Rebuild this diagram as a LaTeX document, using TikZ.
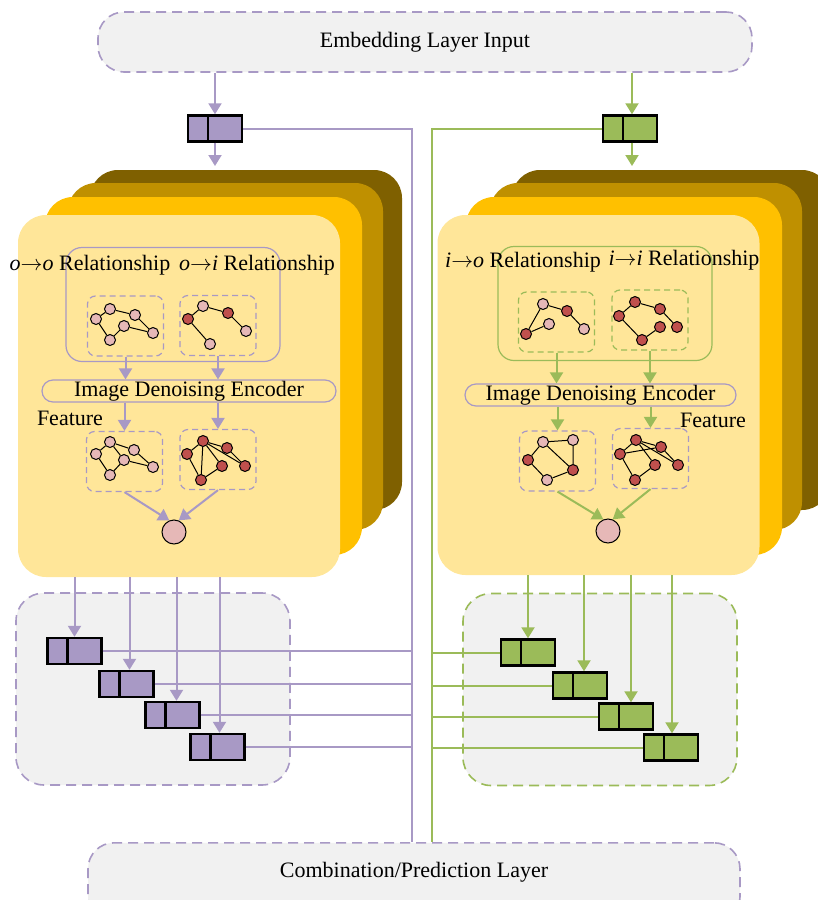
\documentclass[tikz,border=0pt]{standalone}
\usepackage{fontspec}
\setmainfont{Liberation Serif}
\usetikzlibrary{arrows.meta}

\definecolor{purp}{RGB}{168,153,197}
\definecolor{grn}{RGB}{155,187,89}
\definecolor{lightY}{RGB}{255,230,153}
\definecolor{orng}{RGB}{255,192,0}
\definecolor{ochre}{RGB}{191,144,0}
\definecolor{brwn}{RGB}{127,96,0}
\definecolor{pinkN}{RGB}{230,184,183}
\definecolor{redN}{RGB}{192,80,77}
\definecolor{panel}{RGB}{241,241,241}

\begin{document}
\begin{tikzpicture}[x=0.5pt,y=-0.5pt,font=\fontsize{11}{13}\selectfont,
  pill/.style={draw=purp,dash pattern=on 5pt off 3pt,line width=0.8pt,fill=panel,rounded corners=13pt,minimum height=30pt},
  panelbox/.style={dash pattern=on 5pt off 3pt,line width=0.8pt,fill=panel,rounded corners=14pt,minimum width=137pt,minimum height=96pt},
  layer/.style={rounded corners=14pt,minimum width=161pt,minimum height=181pt},
  relbox/.style={line width=0.6pt,rounded corners=8pt,minimum width=107pt,minimum height=57pt},
  gbox/.style={dash pattern=on 3pt off 2pt,line width=0.6pt,rounded corners=4pt,minimum width=38pt,minimum height=30pt},
  encoder/.style={draw=purp,line width=0.6pt,rounded corners=5.5pt,minimum height=11pt,inner sep=0pt},
  gn/.style={circle,draw=black,line width=0.5pt,minimum size=5.5pt,inner sep=0pt},
  pk/.style={gn,fill=pinkN},
  rd/.style={gn,fill=redN},
  edge/.style={line width=0.5pt},
  outcirc/.style={circle,draw=black,line width=0.5pt,fill=pinkN,minimum size=12pt,inner sep=0pt},
  vec/.style={draw=black,line width=1.2pt,minimum width=27pt,minimum height=13pt,inner sep=0pt,
    path picture={\draw[line width=1.2pt] ([xshift=10pt]path picture bounding box.north west) -- ([xshift=10pt]path picture bounding box.south west);}},
  vp/.style={vec,fill=purp},
  vg/.style={vec,fill=grn},
  arrP/.style={draw=purp,line width=1pt,-{Triangle[width=6.5pt,length=5.5pt]}},
  arrG/.style={draw=grn,line width=1pt,-{Triangle[width=6.5pt,length=5.5pt]}},
  lnP/.style={draw=purp,line width=1pt},
  lnG/.style={draw=grn,line width=1pt}]
\useasboundingbox (0,0) rectangle (818,900);

% input / output layers
\node[pill,minimum width=327pt] (emb) at (425,42) {Embedding Layer Input};
\node[pill,minimum width=326pt,minimum height=40pt,anchor=north] (comb) at (414,842) {};
\node (combTxt) at (414,872) {Combination/Prediction Layer};

% gray panels
\node[panelbox,draw=purp] (panL) at (153,689) {};
\node[panelbox,draw=grn] (panR) at (600,689.5) {};

% left stack
\fill[brwn,rounded corners=14pt] (90,170) rectangle (402,510);
\fill[ochre,rounded corners=14pt] (68,183) rectangle (383,530);
\fill[orng,rounded corners=14pt] (45,197) rectangle (362,555);
\node[layer,fill=lightY] (frontL) at (179,396) {};

% right stack
\fill[brwn,rounded corners=14pt] (512,170) rectangle (830,510);
\fill[ochre,rounded corners=14pt] (490,183) rectangle (802,530);
\fill[orng,rounded corners=14pt] (466,197) rectangle (782,555);
\node[layer,fill=lightY,minimum height=180pt] (frontR) at (598.5,395) {};

% left block
\node[relbox,draw=purp] (relL) at (173,304.5) {};
\node (lblOO) at (90,265) {\textit{o}$\rightarrow$\textit{o} Relationship};
\node (lblOI) at (257,265) {\textit{o}$\rightarrow$\textit{i} Relationship};
\node[gbox,draw=purp] (dA) at (125.5,326) {};
\node[gbox,draw=purp] (dB) at (218,325.5) {};
\node[encoder,minimum width=147pt] (encL) at (189,391) {Image Denoising Encoder};
\node (featL) at (70,418) {Feature};
\node[gbox,draw=purp] (dC) at (124.5,461.5) {};
\node[gbox,draw=purp] (dD) at (218,459.5) {};
\node[outcirc] (circL) at (174,532) {};

\draw[arrP] (dA.south) -- (encL.north -| dA.south);
\draw[arrP] (dB.south) -- (encL.north -| dB.south);
\draw[arrP] (encL.south -| dC.north) -- (dC.north);
\draw[arrP] (encL.south -| dD.north) -- (dD.north);
\draw[arrP] (dC.south) -- (circL.112);
\draw[arrP] (dD.south) -- (circL.68);

% o->o graph
\node[pk] (A1) at (96,319) {};
\node[pk] (A2) at (110,309) {};
\node[pk] (A3) at (135,315) {};
\node[pk] (A4) at (124,326) {};
\node[pk] (A5) at (153,333) {};
\node[pk] (A6) at (110,340) {};
\draw[edge] (A1) -- (A2) -- (A3) -- (A5) -- (A4) -- (A6) -- (A1);
% o->i graph
\node[rd] (B1) at (188,319) {};
\node[pk] (B2) at (203,306) {};
\node[rd] (B3) at (228,313) {};
\node[pk] (B4) at (246,331) {};
\node[pk] (B5) at (210,344) {};
\draw[edge] (B5) -- (B1) -- (B2) -- (B3) -- (B4);
% feature graphs
\node[pk] (C1) at (96,454) {};
\node[pk] (C2) at (110,442) {};
\node[pk] (C3) at (134,450) {};
\node[pk] (C4) at (124,460) {};
\node[pk] (C5) at (153,467) {};
\node[pk] (C6) at (110,475) {};
\draw[edge] (C1) -- (C2) -- (C3) -- (C5) -- (C4) -- (C6) -- (C1);
\draw[edge] (C2) -- (C4);
\node[rd] (D1) at (187,454) {};
\node[rd] (D2) at (203,441) {};
\node[rd] (D3) at (227,448) {};
\node[rd] (D4) at (222,466) {};
\node[rd] (D5) at (245,466) {};
\node[rd] (D6) at (201,480) {};
\draw[edge] (D1) -- (D2) -- (D3) -- (D5) -- (D2) -- (D4) -- (D6) -- (D1);
\draw[edge] (D2) -- (D6);

% right block
\node[relbox,draw=grn] (relR) at (605,303.5) {};
\node (lblIO) at (523,262) {\textit{i}$\rightarrow$\textit{o} Relationship};
\node (lblII) at (684,260) {\textit{i}$\rightarrow$\textit{i} Relationship};
\node[gbox,draw=grn] (dE) at (556.5,322) {};
\node[gbox,draw=grn] (dF) at (650,320) {};
\node[encoder,minimum width=135.5pt] (encR) at (600.5,395) {Image Denoising Encoder};
\node (featR) at (713,420) {Feature};
\node[gbox,draw=purp] (dG) at (557.5,461) {};
\node[gbox,draw=purp] (dH) at (650.5,458.5) {};
\node[outcirc] (circR) at (608,531) {};

\draw[arrG] (dE.south) -- (encR.north -| dE.south);
\draw[arrG] (dF.south) -- (encR.north -| dF.south);
\draw[arrG] (encR.south -| dG.north) -- (dG.north);
\draw[arrG] (encR.south -| dH.north) -- (dH.north);
\draw[arrG] (dG.south) -- (circR.112);
\draw[arrG] (dH.south) -- (circR.68);

% i->o graph
\node[rd] (E1) at (526,334) {};
\node[pk] (E2) at (543,304) {};
\node[rd] (E3) at (567,311) {};
\node[pk] (E4) at (549,324) {};
\node[pk] (E5) at (584,329) {};
\draw[edge] (E4) -- (E1) -- (E2) -- (E3) -- (E5);
% i->i graph
\node[rd] (F1) at (619,316) {};
\node[rd] (F2) at (635,302) {};
\node[rd] (F3) at (660,309) {};
\node[rd] (F4) at (677,327) {};
\node[rd] (F5) at (660,327) {};
\node[rd] (F6) at (642,340) {};
\draw[edge] (F5) -- (F6) -- (F1) -- (F2) -- (F3) -- (F4);
% feature graphs
\node[rd] (G1) at (528,460) {};
\node[pk] (G2) at (543,442) {};
\node[pk] (G3) at (573,440) {};
\node[rd] (G4) at (573,470) {};
\node[pk] (G5) at (547,480) {};
\draw[edge] (G1) -- (G2) -- (G3) -- (G4) -- (G5) -- (G1);
\draw[edge] (G2) -- (G4);
\node[rd] (H1) at (620,454) {};
\node[rd] (H2) at (636,440) {};
\node[rd] (H3) at (661,447) {};
\node[rd] (H4) at (655,465) {};
\node[rd] (H5) at (678,465) {};
\node[rd] (H6) at (635,480) {};
\draw[edge] (H1) -- (H2) -- (H3) -- (H5) -- (H2) -- (H4) -- (H6) -- (H1) -- (H3);

% top vectors
\node[vp] (vp0) at (215,128.5) {};
\node[vg] (vg0) at (630,128.5) {};
\coordinate (topL) at (215,166);
\coordinate (topR) at (632,166);
\coordinate (busP) at (412,128.5);
\coordinate (busG) at (432,128.5);
\draw[arrP] (vp0.north |- emb.south) -- (vp0.north);
\draw[arrP] (vp0.south) -- (topL);
\draw[arrG] ([xshift=1pt]vg0.north |- emb.south) -- ([xshift=1pt]vg0.north);
\draw[arrG] ([xshift=1pt]vg0.south) -- (topR);
\draw[lnP] (vp0.east) -- (busP) -- (busP |- comb.north);
\draw[lnG] (vg0.west) -- (busG) -- (busG |- comb.north);

% output vectors, left
\node[vp] (pb1) at (74.5,651) {};
\node[vp] (pb2) at (126.5,684) {};
\node[vp] (pb3) at (172.5,715) {};
\node[vp] (pb4) at (217.5,747) {};
\draw[arrP] (pb1.north |- frontL.south) -- (pb1.north);
\draw[arrP] ([xshift=1.5pt]pb2.north |- frontL.south) -- ([xshift=1.5pt]pb2.north);
\draw[arrP] ([xshift=2pt]pb3.north |- frontL.south) -- ([xshift=2pt]pb3.north);
\draw[arrP] ([xshift=1pt]pb4.north |- frontL.south) -- ([xshift=1pt]pb4.north);
\draw[lnP] (pb1.east) -- (pb1.east -| busP);
\draw[lnP] (pb2.east) -- (pb2.east -| busP);
\draw[lnP] (pb3.east) -- (pb3.east -| busP);
\draw[lnP] (pb4.east) -- (pb4.east -| busP);

% output vectors, right
\node[vg] (gb1) at (528,652.5) {};
\node[vg] (gb2) at (580,685.5) {};
\node[vg] (gb3) at (626,716.5) {};
\node[vg] (gb4) at (671,747.5) {};
\draw[arrG] (gb1.north |- frontR.south) -- (gb1.north);
\draw[arrG] ([xshift=2pt]gb2.north |- frontR.south) -- ([xshift=2pt]gb2.north);
\draw[arrG] ([xshift=2.5pt]gb3.north |- frontR.south) -- ([xshift=2.5pt]gb3.north);
\draw[arrG] ([xshift=0.5pt]gb4.north |- frontR.south) -- ([xshift=0.5pt]gb4.north);
\draw[lnG] (gb1.west) -- (gb1.west -| busG);
\draw[lnG] (gb2.west) -- (gb2.west -| busG);
\draw[lnG] (gb3.west) -- (gb3.west -| busG);
\draw[lnG] (gb4.west) -- (gb4.west -| busG);
\end{tikzpicture}
\end{document}
